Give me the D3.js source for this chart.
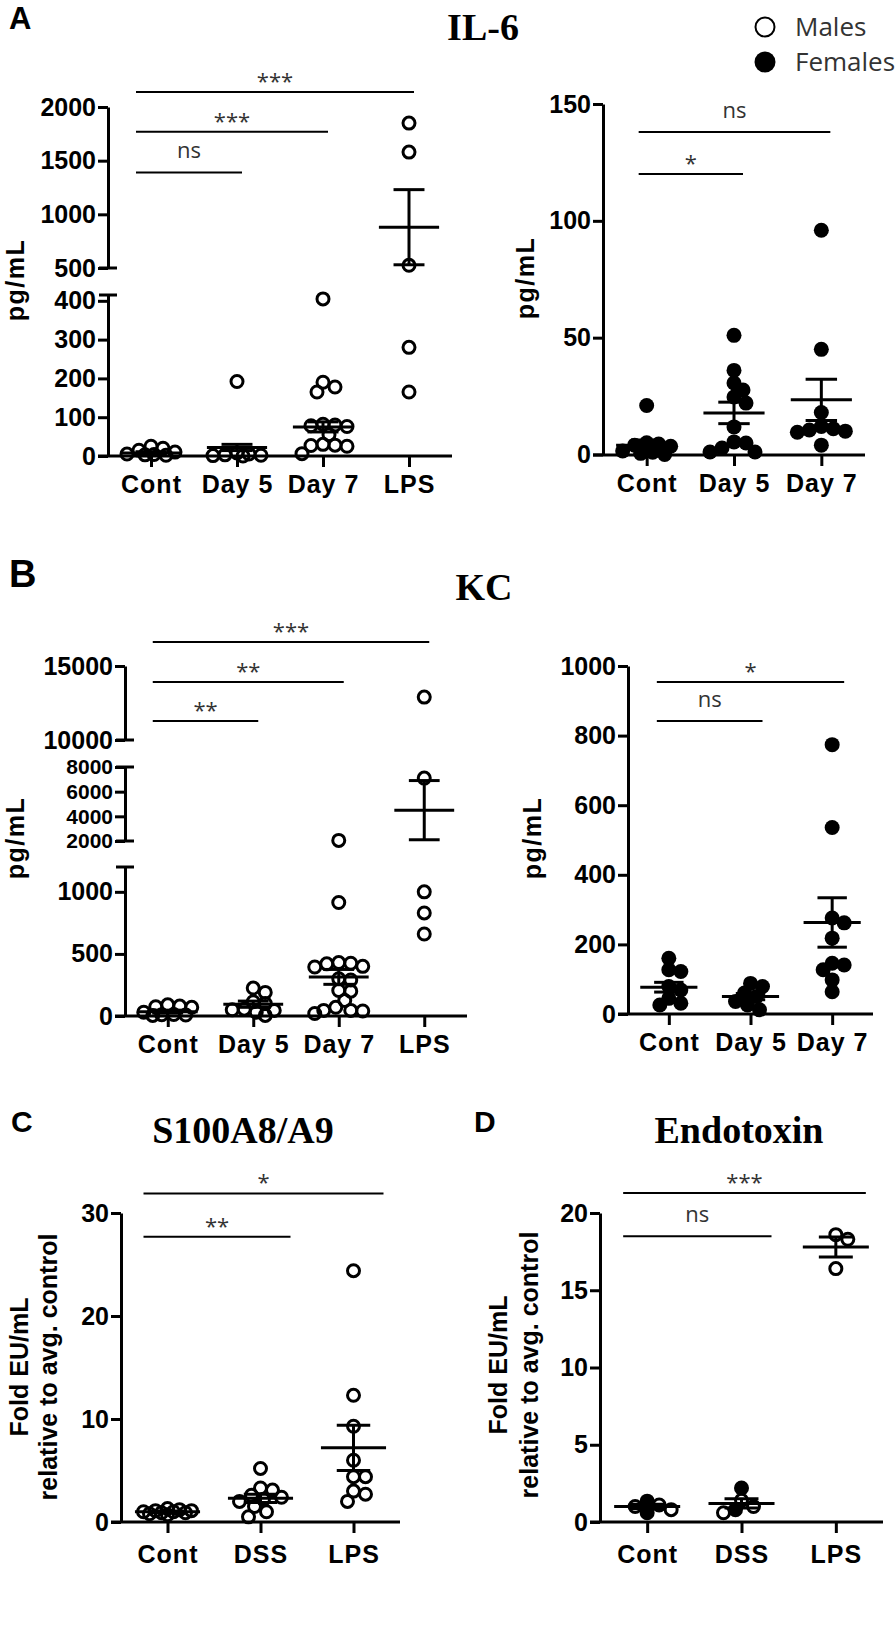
<!DOCTYPE html>
<html>
<head>
<meta charset="utf-8">
<script src="https://cdn.jsdelivr.net/npm/d3@7"></script>
<style>
  body { margin: 0; background: #fff; }
  svg text { font-family: "Liberation Sans", Arial, sans-serif; }
</style>
</head>
<body>
<svg id="fig" width="896" height="1630"></svg>
<script>
// categories
const catsDay = ["Cont", "Day 5", "Day 7", "LPS"];
const catsDayF = ["Cont", "Day 5", "Day 7"];
const catsDss = ["Cont", "DSS", "LPS"];

// IL-6 males (pg/mL), one array per group
const il6Males = [
  [25, 2, 15, 5, 10, 3, 20, 4],
  [192, 2, 3, 0, 5, 1, 8],
  [405, 190, 165, 178, 80, 78, 82, 76, 55, 28, 25, 30, 27, 6],
  [1850, 1580, 525, 280, 165]
];
const il6MalesMean = [8, 22, 75, 880];
const il6MalesSem = [3, 8, 13, 350];

// IL-6 females
const il6Females = [
  [21, 4, 5, 3.5, 4.5, 0.5, 1, 0, 1.5],
  [51, 36, 30.6, 27.6, 24.6, 22, 11.8, 5.4, 4.9, 2.8, 1.1, 1.1],
  [96, 45, 18, 12, 11, 10.5, 10, 9.5, 4]
];
const il6FemalesMean = [4, 17.8, 23.4];
const il6FemalesSem = [2.2, 4.6, 8.8];

// KC males
const kcMales = [
  [75, 80, 70, 90, 5, 10, 8, 12, 30],
  [225, 190, 115, 100, 45, 50, 5, 30, 55],
  [2050, 914, 430, 420, 425, 400, 395, 300, 290, 205, 200, 125, 70, 45, 45, 40, 20],
  [12900, 7100, 1000, 830, 660]
];
const kcMalesMean = [35, 95, 315, 4500];
const kcMalesSem = [12, 25, 60, 2400];

// KC females
const kcFemales = [
  [160, 127, 122, 79, 69, 45, 31, 26],
  [88, 79, 60, 50, 36, 26, 12],
  [774, 536, 276, 262, 218, 146, 141, 127, 98, 64]
];
const kcFemalesMean = [77, 50, 263];
const kcFemalesSem = [14, 9, 71];

// S100A8/A9 (fold), males
const s100Males = [
  [0.8, 1.0, 1.1, 1.2, 0.9, 1.3, 0.7, 1.0, 0.9, 1.1],
  [5.2, 3.3, 3.1, 2.6, 2.4, 2.2, 2.0, 1.5, 1.0, 0.5],
  [24.4, 12.3, 9.3, 6.0, 4.4, 4.4, 3.0, 2.7, 2.0]
];
const s100Mean = [1.0, 2.3, 7.2];
const s100Sem = [0.08, 0.4, 2.2];

// Endotoxin (fold), males and females
const endoMales = [[1.0, 1.1, 0.8], [1.0, 0.6, 1.4], [18.6, 18.3, 16.4]];
const endoFemales = [[1.35, 0.6], [2.2, 0.8], []];
const endoMean = [1.0, 1.2, 17.8];
const endoSem = [0.15, 0.3, 0.65];

// significance: [from, to, label, height in axis units]
const il6MalesSig = [["Cont", "Day 5", "ns", 1390], ["Cont", "Day 7", "***", 1770], ["Cont", "LPS", "***", 2140]];
const il6FemalesSig = [["Cont", "Day 5", "*", 120], ["Cont", "Day 7", "ns", 138]];
const kcMalesSig = [["Cont", "Day 5", "**", 11284], ["Cont", "Day 7", "**", 13919], ["Cont", "LPS", "***", 16622]];
const kcFemalesSig = [["Cont", "Day 5", "ns", 842], ["Cont", "Day 7", "*", 954]];
const s100Sig = [["Cont", "DSS", "**", 27.7], ["Cont", "LPS", "*", 31.9]];
const endoSig = [["Cont", "DSS", "ns", 18.5], ["Cont", "LPS", "***", 21.3]];

const legendLabels = ["Males", "Females"];

const svg = d3.select("#fig");

// piecewise linear scale for the broken axes
function pieceScale(segs) {
  const sc = segs.map(s => d3.scaleLinear().domain(s.domain).range(s.range));
  return v => {
    let k = 0;
    sc.forEach((s, i) => { if (v >= s.domain()[0]) k = i; });
    return sc[k](v);
  };
}

// simple deterministic beeswarm, kept inside +-maxOff
function swarm(pts, cx, y, maxOff) {
  const minD = 11, st = 3;
  const offs = [0];
  for (let k = st; k <= maxOff; k += st) offs.push(k, -k);
  const placed = [];
  pts.slice().sort((a, b) => b.v - a.v).forEach(p => {
    const py = y(p.v);
    let best = 0, bestD = -1;
    for (const dx of offs) {
      const d = placed.length ? d3.min(placed, q => Math.hypot(q.x - cx - dx, q.y - py)) : Infinity;
      if (d >= minD) { best = dx; break; }
      if (d > bestD) { bestD = d; best = dx; }
    }
    placed.push({ x: cx + best, y: py, filled: p.filled });
  });
  return placed;
}

function styleAxis(g, size) {
  g.selectAll(".domain, .tick line").attr("stroke", "#000").attr("stroke-width", 3);
  g.selectAll("text").attr("fill", "#000").attr("font-size", size).attr("font-weight", "bold")
    .attr("font-family", '"Liberation Sans", Arial, sans-serif');
}

function drawPanel(p) {
  const y = pieceScale(p.segs);
  const x = d3.scalePoint().domain(p.cats).range([p.axisX, p.xEnd]).padding(0.5);
  const step = x.step();

  // y axis segments
  p.segs.forEach(s => {
    const sc = d3.scaleLinear().domain(s.domain).range(s.range);
    const g = svg.append("g").attr("transform", `translate(${p.axisX},0)`)
      .call(d3.axisLeft(sc).tickValues(s.ticks).tickSize(10).tickSizeOuter(0).tickPadding(2).tickFormat(d3.format("d")));
    styleAxis(g, s.fs || 25);
  });
  // caps at the axis breaks
  (p.caps || []).forEach(v => {
    svg.append("line").attr("x1", p.axisX - 9).attr("x2", p.axisX + 9)
      .attr("y1", y(v)).attr("y2", y(v)).attr("stroke", "#000").attr("stroke-width", 3);
  });

  // x axis
  const gx = svg.append("g").attr("transform", `translate(0,${p.axisY})`)
    .call(d3.axisBottom(x).tickSize(11).tickSizeOuter(0).tickPadding(p.labPad));
  gx.select(".domain").attr("d", `M${p.axisX - 10},0H${p.xEnd}`);
  styleAxis(gx, 25);
  gx.selectAll("text").attr("letter-spacing", 1);

  // points
  p.cats.forEach((c, i) => {
    const pts = [];
    if (p.males) p.males[i].forEach(v => pts.push({ v, filled: false }));
    if (p.females) p.females[i].forEach(v => pts.push({ v, filled: true }));
    const placed = swarm(pts, x(c), y, step * 0.3);
    svg.append("g").selectAll("circle").data(placed).join("circle")
      .attr("cx", d => d.x).attr("cy", d => d.y)
      .attr("r", d => d.filled ? 7.5 : 6)
      .attr("fill", d => d.filled ? "#000" : "none")
      .attr("stroke", "#000")
      .attr("stroke-width", d => d.filled ? 0 : 3);
  });

  // mean and SEM
  const err = svg.append("g").attr("stroke", "#000").attr("stroke-width", 3);
  p.cats.forEach((c, i) => {
    const cx = x(c), m = p.mean[i], s = p.sem[i];
    err.append("line").attr("x1", cx).attr("x2", cx).attr("y1", y(m - s)).attr("y2", y(m + s));
    err.append("line").attr("x1", cx - step * 0.35).attr("x2", cx + step * 0.35).attr("y1", y(m)).attr("y2", y(m));
    [m - s, m + s].forEach(v => {
      err.append("line").attr("x1", cx - step * 0.18).attr("x2", cx + step * 0.18).attr("y1", y(v)).attr("y2", y(v));
    });
  });

  // significance bars
  p.sig.forEach(([a, b, lab, h]) => {
    const x1 = x(a) + p.sigPad[0], x2 = x(b) + p.sigPad[1], yy = y(h);
    svg.append("line").attr("x1", x1).attr("x2", x2).attr("y1", yy).attr("y2", yy)
      .attr("stroke", "#000").attr("stroke-width", 2);
    svg.append("text").attr("x", (x1 + x2) / 2).attr("y", lab === "ns" ? yy - 14 : yy - 3)
      .attr("text-anchor", "middle").attr("font-size", 22).attr("fill", "#333")
      .style("font-family", '"Open Sans", sans-serif').text(lab);
  });

  // y label
  p.ylab.forEach((t, i) => {
    svg.append("text").attr("transform", `translate(${p.ylabX[i]},${p.ylabY}) rotate(-90)`)
      .attr("text-anchor", "middle").attr("font-size", p.ylabSize).attr("font-weight", "bold")
      .attr("letter-spacing", p.ylabSpacing || 0).text(t);
  });
}

// panel A
drawPanel({
  cats: catsDay, males: il6Males, mean: il6MalesMean, sem: il6MalesSem,
  axisX: 108, xEnd: 452, axisY: 456, labPad: 8,
  segs: [
    { domain: [0, 415], range: [456, 295], ticks: [0, 100, 200, 300, 400] },
    { domain: [500, 2000], range: [268, 107], ticks: [500, 1000, 1500, 2000] }
  ],
  caps: [415, 500],
  sig: il6MalesSig, sigPad: [-15, 5],
  ylab: ["pg/mL"], ylabX: [24], ylabY: 280, ylabSize: 25, ylabSpacing: 1.5
});
drawPanel({
  cats: catsDayF, females: il6Females, mean: il6FemalesMean, sem: il6FemalesSem,
  axisX: 603, xEnd: 865, axisY: 455, labPad: 8,
  segs: [{ domain: [0, 150], range: [454.5, 104], ticks: [0, 50, 100, 150] }],
  sig: il6FemalesSig, sigPad: [-8, 9],
  ylab: ["pg/mL"], ylabX: [534], ylabY: 278, ylabSize: 25, ylabSpacing: 1.5
});

// panel B
drawPanel({
  cats: catsDay, males: kcMales, mean: kcMalesMean, sem: kcMalesSem,
  axisX: 125, xEnd: 467, axisY: 1016, labPad: 8,
  segs: [
    { domain: [0, 1200], range: [1016, 867], ticks: [0, 500, 1000] },
    { domain: [2000, 8000], range: [841, 767], ticks: [2000, 4000, 6000, 8000], fs: 21 },
    { domain: [10000, 15000], range: [740, 666], ticks: [10000, 15000] }
  ],
  caps: [1200, 2000, 8000, 10000],
  sig: kcMalesSig, sigPad: [-15, 5],
  ylab: ["pg/mL"], ylabX: [24], ylabY: 838, ylabSize: 25, ylabSpacing: 1.5
});
drawPanel({
  cats: catsDayF, females: kcFemales, mean: kcFemalesMean, sem: kcFemalesSem,
  axisX: 628, xEnd: 873, axisY: 1014, labPad: 8,
  segs: [{ domain: [0, 1000], range: [1014, 666], ticks: [0, 200, 400, 600, 800, 1000] }],
  sig: kcFemalesSig, sigPad: [-12, 12],
  ylab: ["pg/mL"], ylabX: [541], ylabY: 838, ylabSize: 25, ylabSpacing: 1.5
});

// panel C
drawPanel({
  cats: catsDss, males: s100Males, mean: s100Mean, sem: s100Sem,
  axisX: 121, xEnd: 400, axisY: 1522, labPad: 12,
  segs: [{ domain: [0, 30], range: [1522, 1213], ticks: [0, 10, 20, 30] }],
  sig: s100Sig, sigPad: [-24, 30],
  ylab: ["Fold EU/mL", "relative to avg. control"], ylabX: [28, 57], ylabY: 1367, ylabSize: 25
});

// panel D
drawPanel({
  cats: catsDss, males: endoMales, females: endoFemales, mean: endoMean, sem: endoSem,
  axisX: 600, xEnd: 883, axisY: 1522, labPad: 12,
  segs: [{ domain: [0, 20], range: [1522, 1213], ticks: [0, 5, 10, 15, 20] }],
  sig: endoSig, sigPad: [-24, 30],
  ylab: ["Fold EU/mL", "relative to avg. control"], ylabX: [507, 538], ylabY: 1365, ylabSize: 25
});

// titles and panel letters
const titles = [["IL-6", 483, 40], ["KC", 484, 600], ["S100A8/A9", 243, 1143], ["Endotoxin", 739, 1143]];
titles.forEach(([t, tx, ty]) => {
  svg.append("text").attr("x", tx).attr("y", ty).attr("text-anchor", "middle")
    .attr("font-size", 38).attr("font-weight", "bold")
    .style("font-family", '"Liberation Serif", "Times New Roman", serif').text(t);
});
const letters = [["A", 9, 29, 31], ["B", 9, 587, 38], ["C", 11, 1132, 30], ["D", 474, 1132, 30]];
letters.forEach(([t, lx, ly, fs]) => {
  svg.append("text").attr("x", lx).attr("y", ly).attr("font-size", fs).attr("font-weight", "bold").text(t);
});

// legend
const leg = svg.append("g");
legendLabels.forEach((t, i) => {
  const ly = 27 + i * 35;
  leg.append("circle").attr("cx", 765).attr("cy", ly)
    .attr("r", i ? 10.5 : 9.5)
    .attr("fill", i ? "#000" : "none").attr("stroke", "#000").attr("stroke-width", i ? 0 : 2);
  leg.append("text").attr("x", 795).attr("y", ly + 9).attr("font-size", 26).attr("fill", "#333")
    .style("font-family", '"Open Sans", sans-serif').text(t);
});
</script>
</body>
</html>
